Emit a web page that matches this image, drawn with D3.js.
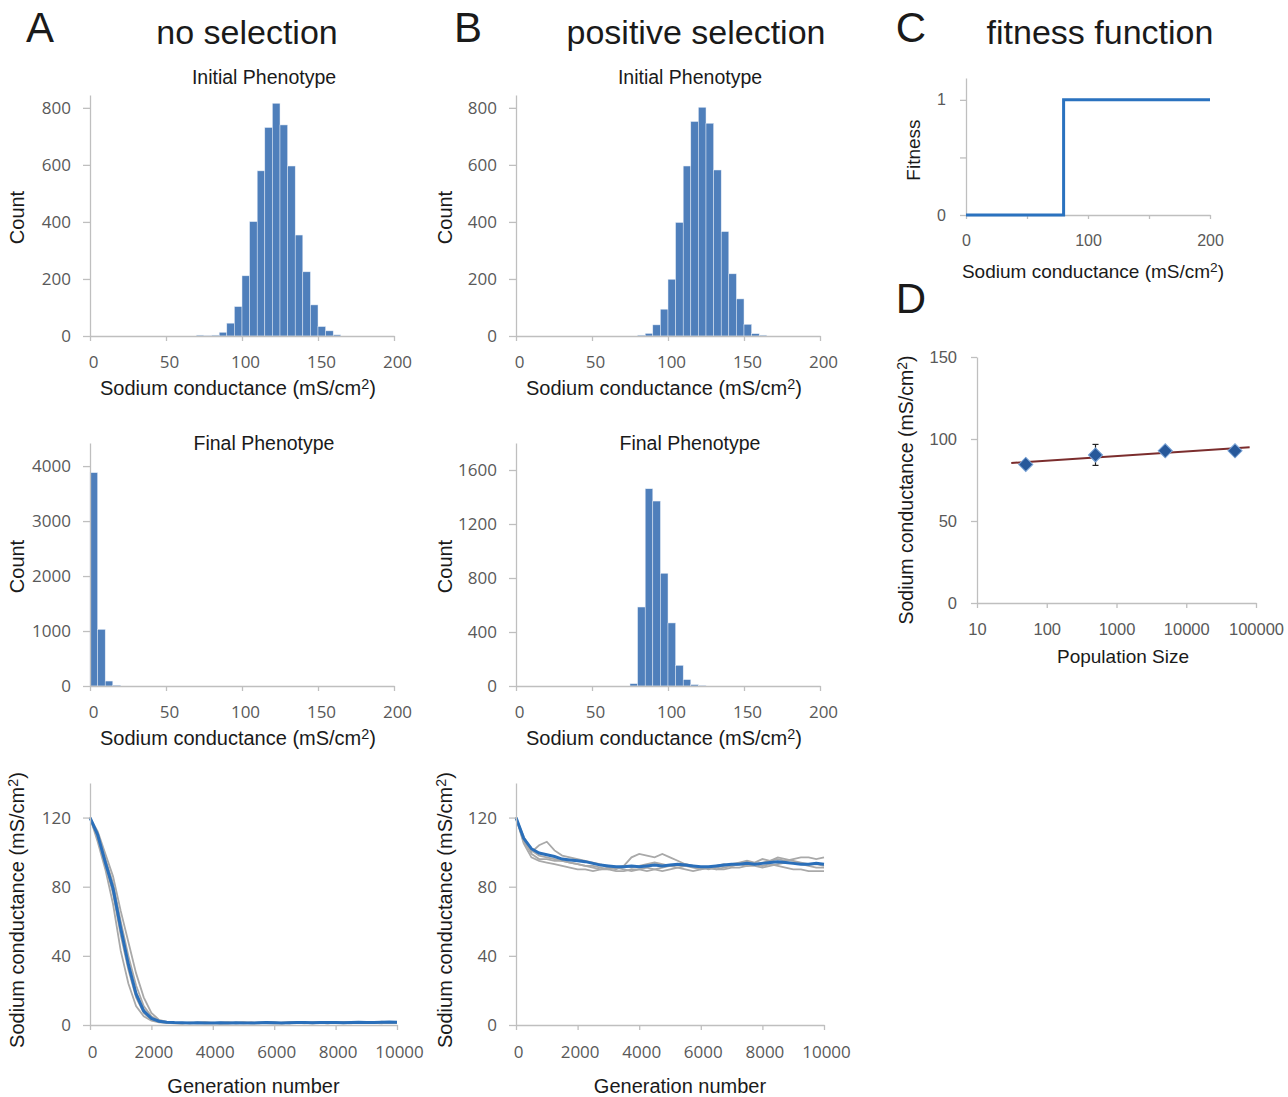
<!DOCTYPE html>
<html><head><meta charset="utf-8">
<script src="https://cdn.jsdelivr.net/npm/d3@7"></script>
<style>body{margin:0;background:#fff} svg{display:block}</style>
</head><body>
<script>
// ---------------- DATA ----------------
const histXTicks = [0, 50, 100, 150, 200];
const initialYTicks = [0, 200, 400, 600, 800];

const initNoSelBins   = [70, 75, 80, 85, 90, 95, 100, 105, 110, 115, 120, 125, 130, 135, 140, 145, 150, 155, 160];
const initNoSelCounts = [3, 1, 3, 13, 45, 103, 211, 401, 579, 731, 816, 740, 596, 354, 225, 109, 33, 18, 4];

const initPosSelBins   = [80, 85, 90, 95, 100, 105, 110, 115, 120, 125, 130, 135, 140, 145, 150, 155, 160];
const initPosSelCounts = [3, 9, 39, 94, 199, 398, 596, 752, 802, 746, 582, 366, 218, 130, 41, 8, 3];

const finalNoSelBins   = [0, 5, 10, 15];
const finalNoSelCounts = [3880, 1030, 90, 15];
const finalNoSelYTicks = [0, 1000, 2000, 3000, 4000];

const finalPosSelBins   = [75, 80, 85, 90, 95, 100, 105, 110, 115, 120];
const finalPosSelCounts = [17, 585, 1461, 1370, 835, 467, 153, 47, 10, 4];
const finalPosSelYTicks = [0, 400, 800, 1200, 1600];

const binWidth = 5;

const generations = [0,250,500,750,1000,1250,1500,1750,2000,2250,2500,2750,3000,3250,3500,3750,4000,4250,4500,4750,5000,
  5250,5500,5750,6000,6250,6500,6750,7000,7250,7500,7750,8000,8250,8500,8750,9000,9250,9500,9750,10000];
const genTicks = [0, 2000, 4000, 6000, 8000, 10000];
const condTicks = [0, 40, 80, 120];

// no selection trajectories
const noSelRun1 = [120,106,90,70,43,24,11,5,2.5,1.6,1.2,1.0,
  0.8,1.2,0.9,1.1,1.4,0.7,1.0,1.3,0.9,1.2,1.5,1.1,0.8,1.3,1.0,1.6,1.2,0.9,1.4,1.1,1.7,1.3,1.0,1.5,1.2,1.8,1.4,1.1,1.5];
const noSelRun2 = [120,108,93,76,52,32,16,7,3,1.8,1.4,1.1,
  1.3,0.9,1.5,1.1,0.8,1.2,1.6,1.0,1.3,0.9,1.1,1.4,1.7,1.2,0.9,1.3,1.0,1.5,1.8,1.2,1.4,1.0,1.3,1.6,1.1,1.4,1.9,1.5,1.2];
const noSelRun3 = [120,110,96,82,60,40,23,11,5,2.5,1.6,1.2,
  1.0,1.4,1.2,0.8,1.1,1.5,1.3,0.9,1.2,1.6,1.0,1.3,1.1,0.8,1.4,1.7,1.2,1.0,1.3,1.5,1.1,1.8,1.4,1.2,1.6,1.3,1.0,1.5,1.7];
const noSelRun4 = [120,112,99,86,66,48,30,16,7,3,1.8,1.3,
  1.2,1.0,1.3,1.6,1.1,0.9,1.4,1.2,1.7,1.1,0.9,1.5,1.2,1.4,1.8,1.3,1.1,1.6,1.2,0.9,1.5,1.3,1.7,1.1,1.4,1.2,1.6,1.3,1.4];
const noSelRun5 = [120,109,95,80,57,36,19,9,4,2.2,1.5,1.1,
  0.9,1.3,1.1,1.5,1.2,1.0,0.8,1.3,1.5,1.0,1.2,1.6,1.3,1.0,1.2,1.4,1.7,1.1,1.3,1.0,1.4,1.6,1.2,1.5,1.8,1.3,1.1,1.6,1.4];
const noSelMean = [120,110,94,79,56,35,18,8,3.8,2.2,1.6,1.4,
  1.3,1.2,1.3,1.1,1.2,1.3,1.2,1.3,1.2,1.1,1.3,1.4,1.3,1.2,1.3,1.4,1.5,1.3,1.4,1.5,1.4,1.3,1.5,1.6,1.4,1.5,1.6,1.7,1.6];

// positive selection trajectories
const posSelRun1 = [120,106,100,104,106,101,98,97,96,95,94,93,91,90,92,97,99,98,97,99,97,95,93,92,91,90,91,92,93,94,95,94,96,95,97,96,95,94,93,93,92];
const posSelRun2 = [120,105,97,95,94,93,92,91,90,90,89,90,91,91,90,89,90,91,90,89,90,91,92,91,90,91,92,93,92,93,94,93,92,93,92,91,90,90,89,89,89];
const posSelRun3 = [120,107,99,96,96,95,95,94,93,92,92,91,90,91,92,91,92,93,94,93,92,91,90,89,90,91,90,91,92,93,92,93,94,95,96,95,96,97,97,96,97];
const posSelRun4 = [120,109,101,98,97,96,95,94,93,92,91,90,90,89,89,90,90,89,90,91,92,93,93,92,91,91,90,90,91,91,92,92,91,92,93,94,94,93,92,91,91];
const posSelMean = [120,108,102,99.5,98.5,97.5,96,95.5,95,94.5,93.5,92.5,92,91.5,91.5,92,91.5,92,92.5,92,92.5,93,92.5,92,91.5,91.5,92,92.5,93,93,93.5,93,93.5,94,94.5,94,93.5,93,93,93.5,93];

// fitness function
const fitnessX = [0, 80, 80, 200];
const fitnessY = [0, 0, 1, 1];
const fitnessXTicks = [0, 50, 100, 150, 200];
const fitnessXLabels = [0, 100, 200];
const fitnessYTicks = [0, 0.5, 1];
const fitnessYLabels = [0, 1];

// population size
const popSizes = [50, 500, 5000, 50000];
const popMeans = [84.5, 90.3, 92.8, 92.8];
const popErr   = [1.5, 6.4, 1.2, 1.0];
const trendX = [31, 81000];
const trendY = [85.4, 94.9];
const popXTicks = [10, 100, 1000, 10000, 100000];
const popYTicks = [0, 50, 100, 150];

// ---------------- DRAW ----------------
const W = 1288, H = 1097;
const svg = d3.select("body").append("svg").attr("width", W).attr("height", H);

const AXIS = "#bfbfbf";
const TICKTXT = "#595959";
const LABELFONT = "'Liberation Sans', Arial, sans-serif";
const TICKFONT = "'Open Sans', 'Liberation Sans', sans-serif";
const BAR = "#4f7fbb";
const intFmt = d3.format("d");

function text(x, y, s, size, opts = {}) {
  const t = svg.append("text").attr("x", x).attr("y", y)
    .attr("font-family", opts.font || LABELFONT).attr("font-size", size)
    .attr("fill", opts.fill || "#1a1a1a")
    .attr("text-anchor", opts.anchor || "middle");
  if (opts.rotate) t.attr("transform", `rotate(-90,${x},${y})`);
  t.text(s);
  return t;
}
function condLabel(x, y, size, rotate) {
  const t = svg.append("text").attr("x", x).attr("y", y)
    .attr("font-family", LABELFONT).attr("font-size", size)
    .attr("fill", "#1a1a1a").attr("text-anchor", "middle");
  if (rotate) t.attr("transform", `rotate(-90,${x},${y})`);
  t.append("tspan").text("Sodium conductance (mS/cm");
  t.append("tspan").attr("font-size", size * 0.72).attr("dy", -size * 0.3).text("2");
  t.append("tspan").attr("dy", size * 0.3).text(")");
}

function styleAxis(g, font, size, dx) {
  g.select(".domain").attr("stroke", AXIS).attr("stroke-width", 1.3);
  g.selectAll(".tick line").attr("stroke", AXIS).attr("stroke-width", 1.3);
  g.selectAll(".tick text").attr("fill", TICKTXT).attr("font-family", font).attr("font-size", size);
  if (dx) g.selectAll(".tick text").attr("dx", dx);
}

function drawXAxis(x, yPos, ticks, opts = {}) {
  const ax = d3.axisBottom(x).tickValues(ticks).tickSize(opts.tickSize || 5).tickSizeOuter(0)
    .tickPadding(opts.pad || 10).tickFormat(opts.format || intFmt);
  const g = svg.append("g").attr("transform", `translate(0,${yPos})`).call(ax);
  styleAxis(g, opts.font || TICKFONT, opts.size || 17, opts.dx || 0);
  return g;
}
function drawYAxis(y, xPos, ticks, opts = {}) {
  const ax = d3.axisLeft(y).tickValues(ticks).tickSize(opts.tickSize || 7).tickSizeOuter(0)
    .tickPadding(opts.pad || 12).tickFormat(opts.format || intFmt);
  const g = svg.append("g").attr("transform", `translate(${xPos},0)`).call(ax);
  styleAxis(g, opts.font || TICKFONT, opts.size || 17, 0);
  return g;
}

function histogram(cfg) {
  const x = d3.scaleLinear().domain([0, 200]).range([cfg.x0, cfg.x1]);
  const y = d3.scaleLinear().domain([0, cfg.yMax]).range([cfg.yBase, cfg.yTop]);
  svg.append("g").selectAll("rect").data(cfg.bins.map((b, i) => ({b, c: cfg.counts[i]})))
    .join("rect")
    .attr("x", d => x(d.b)).attr("width", d => x(d.b + binWidth) - x(d.b))
    .attr("y", d => y(d.c)).attr("height", d => y(0) - y(d.c))
    .attr("fill", BAR).attr("stroke", "#e4ecf6").attr("stroke-width", 0.5);
  drawXAxis(x, cfg.yBase, histXTicks, {dx: 3, pad: 15});
  drawYAxis(y, cfg.x0, cfg.yTicks, {});
  text((cfg.x0 + cfg.x1) / 2 + 22, cfg.titleY, cfg.title, 19.5);
  text(cfg.countX, (cfg.yBase + cfg.yTop) / 2 + 2, "Count", 20, {rotate: true});
  condLabel((cfg.x0 + cfg.x1) / 2 - 4, cfg.yBase + 59, 20, false);
}

function trajectories(cfg) {
  const x = d3.scaleLinear().domain([0, 10000]).range([cfg.x0, cfg.x1]);
  const y = d3.scaleLinear().domain([0, 140]).range([cfg.yBase, cfg.yTop]);
  const line = d3.line().x((d, i) => x(generations[i])).y(d => y(d)).curve(d3.curveLinear);
  svg.append("g").selectAll("path").data(cfg.runs).join("path")
    .attr("d", line).attr("fill", "none").attr("stroke", "#a9a9a9").attr("stroke-width", 1.8);
  svg.append("path").attr("d", line(cfg.mean)).attr("fill", "none")
    .attr("stroke", "#2a6fba").attr("stroke-width", 3);
  drawXAxis(x, cfg.yBase, genTicks, {pad: 16, dx: 2});
  drawYAxis(y, cfg.x0, condTicks, {});
  condLabel(cfg.labelX, (cfg.yBase + cfg.yTop) / 2 + 6, 20, true);
  text((cfg.x0 + cfg.x1) / 2 + 10, cfg.yBase + 68, "Generation number", 20);
}

// Headers
text(40, 42, "A", 42);
text(247, 44, "no selection", 34);
text(468, 42, "B", 42);
text(696, 44, "positive selection", 34);
text(911, 42, "C", 42);
text(1100, 44, "fitness function", 34);
text(911, 313, "D", 42);

// Histograms
histogram({x0: 90, x1: 394, yBase: 336, yTop: 95, yMax: 845, bins: initNoSelBins, counts: initNoSelCounts,
  yTicks: initialYTicks, title: "Initial Phenotype", titleY: 84, countX: 24});
histogram({x0: 516, x1: 820, yBase: 336, yTop: 95, yMax: 845, bins: initPosSelBins, counts: initPosSelCounts,
  yTicks: initialYTicks, title: "Initial Phenotype", titleY: 84, countX: 452});
histogram({x0: 90, x1: 394, yBase: 686, yTop: 443, yMax: 4420, bins: finalNoSelBins, counts: finalNoSelCounts,
  yTicks: finalNoSelYTicks, title: "Final Phenotype", titleY: 450, countX: 24});
histogram({x0: 516, x1: 820, yBase: 686, yTop: 443, yMax: 1800, bins: finalPosSelBins, counts: finalPosSelCounts,
  yTicks: finalPosSelYTicks, title: "Final Phenotype", titleY: 450, countX: 452});

// Trajectories
trajectories({x0: 90, x1: 397, yBase: 1025, yTop: 783, runs: [noSelRun1, noSelRun2, noSelRun3, noSelRun4, noSelRun5],
  mean: noSelMean, labelX: 24});
trajectories({x0: 516, x1: 824, yBase: 1025, yTop: 783, runs: [posSelRun1, posSelRun2, posSelRun3, posSelRun4],
  mean: posSelMean, labelX: 452});

// Fitness function (C)
{
  const x = d3.scaleLinear().domain([0, 200]).range([966, 1210]);
  const y = d3.scaleLinear().domain([0, 1.19]).range([215, 78]);
  drawXAxis(x, 215, fitnessXTicks, {font: LABELFONT, size: 16, pad: 16, tickSize: 4,
    format: d => fitnessXLabels.includes(d) ? d : ""});
  drawYAxis(y, 966, fitnessYTicks, {font: LABELFONT, size: 16, pad: 14, tickSize: 6,
    format: d => fitnessYLabels.includes(d) ? d : ""});
  svg.append("path").attr("d", d3.line().x((d, i) => x(fitnessX[i])).y(d => y(d))(fitnessY))
    .attr("fill", "none").attr("stroke", "#2a72bf").attr("stroke-width", 3);
  text(920, 150, "Fitness", 19, {rotate: true});
  condLabel(1093, 278, 19, false);
}

// Population size (D)
{
  const x = d3.scaleLog().domain([10, 100000]).range([977, 1256]);
  const y = d3.scaleLinear().domain([0, 150]).range([603, 357]);
  drawXAxis(x, 603, popXTicks, {font: LABELFONT, size: 16.5, pad: 15, tickSize: 5});
  drawYAxis(y, 977, popYTicks, {font: LABELFONT, size: 16.5, pad: 14, tickSize: 6});
  svg.append("path").attr("d", d3.line().x((d, i) => x(trendX[i])).y(d => y(d))(trendY))
    .attr("fill", "none").attr("stroke", "#7b2d2d").attr("stroke-width", 2);
  const pts = popSizes.map((p, i) => ({p, m: popMeans[i], e: popErr[i]}));
  const eg = svg.append("g").selectAll("g").data(pts).join("g");
  eg.append("line").attr("x1", d => x(d.p)).attr("x2", d => x(d.p))
    .attr("y1", d => y(d.m - d.e)).attr("y2", d => y(d.m + d.e)).attr("stroke", "#222").attr("stroke-width", 1.2);
  eg.append("line").attr("x1", d => x(d.p) - 3).attr("x2", d => x(d.p) + 3)
    .attr("y1", d => y(d.m + d.e)).attr("y2", d => y(d.m + d.e)).attr("stroke", "#222").attr("stroke-width", 1.2);
  eg.append("line").attr("x1", d => x(d.p) - 3).attr("x2", d => x(d.p) + 3)
    .attr("y1", d => y(d.m - d.e)).attr("y2", d => y(d.m - d.e)).attr("stroke", "#222").attr("stroke-width", 1.2);
  const sym = d3.symbol().type(d3.symbolSquare).size(100);
  svg.append("g").selectAll("path").data(pts).join("path")
    .attr("d", sym).attr("transform", d => `translate(${x(d.p)},${y(d.m)}) rotate(45)`)
    .attr("fill", "#27589a").attr("stroke", "#7aa3d6").attr("stroke-width", 1);
  condLabel(913, 490, 19.5, true);
  text(1123, 663, "Population Size", 19);
}
</script>
</body></html>
